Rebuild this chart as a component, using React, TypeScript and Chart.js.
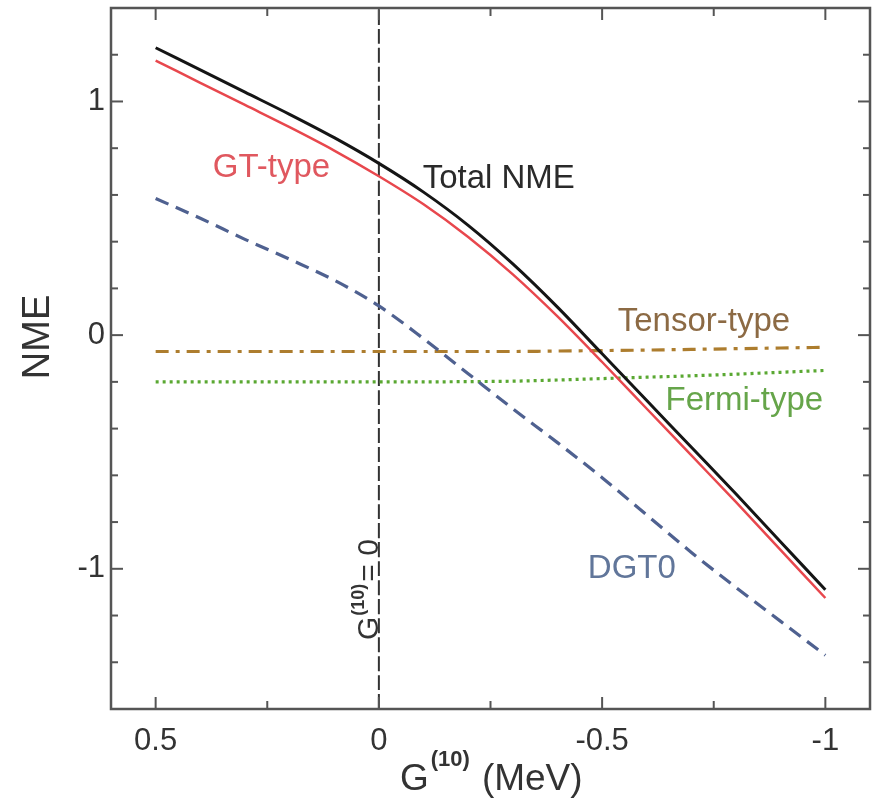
import React, { useEffect, useRef } from 'react';
import { Chart, registerables } from 'chart.js';

Chart.register(...registerables);

// ---- data ----
const gValues = [0.5, 0.4, 0.3, 0.2, 0.1, 0, -0.1, -0.2, -0.3, -0.4, -0.5, -0.6, -0.7, -0.8, -0.9, -1.0];
const totalNME = [1.23, 1.135, 1.04, 0.945, 0.845, 0.735, 0.612, 0.47, 0.305, 0.12, -0.08, -0.28, -0.48, -0.68, -0.885, -1.09];
const gtType = [1.175, 1.08, 0.985, 0.89, 0.79, 0.68, 0.56, 0.42, 0.26, 0.08, -0.115, -0.315, -0.515, -0.715, -0.92, -1.125];
const dgt0 = [0.585, 0.5, 0.41, 0.325, 0.235, 0.125, -0.015, -0.165, -0.315, -0.46, -0.61, -0.77, -0.93, -1.08, -1.225, -1.37];
const tensorType = [-0.07, -0.07, -0.07, -0.07, -0.07, -0.07, -0.07, -0.07, -0.07, -0.068, -0.066, -0.064, -0.061, -0.058, -0.055, -0.052];
const fermiType = [-0.2, -0.2, -0.2, -0.2, -0.2, -0.2, -0.2, -0.199, -0.197, -0.192, -0.186, -0.18, -0.174, -0.167, -0.159, -0.151];
const refLineX = [0, 0];
const refLineY = [-1.6, 1.4];

const xMin = -1.1;
const xMax = 0.6;
const yMin = -1.6;
const yMax = 1.4;
const xLabelTicks = [0.5, 0, -0.5, -1];
const yLabelTicks = [1, 0, -1];

// annotation labels (data coordinates, left/baseline)
const curveLabels = [
  { text: 'GT-type', x: 0.372, y: 0.675, color: '#e0585f' },
  { text: 'Total NME', x: -0.098, y: 0.628, color: '#2a2a2a' },
  { text: 'Tensor-type', x: -0.535, y: 0.017, color: '#8c6a44' },
  { text: 'Fermi-type', x: -0.642, y: -0.32, color: '#66a54a' },
  { text: 'DGT0', x: -0.468, y: -1.038, color: '#61769a' },
];

const FONT = '"Liberation Sans", Arial, sans-serif';

const pts = (xs: number[], ys: number[]) => xs.map((x, i) => ({ x, y: ys[i] }));
const near = (arr: number[], v: number) => arr.some((a) => Math.abs(a - v) < 1e-6);

const framePlugin = {
  id: 'framePlugin',
  afterDatasetsDraw(chart: any) {
    const { ctx, chartArea: a, scales } = chart;
    const xs = scales.x;
    const ys = scales.y;
    ctx.save();
    ctx.strokeStyle = '#555';
    ctx.lineWidth = 2;
    const seg = (x1: number, y1: number, x2: number, y2: number) => {
      ctx.beginPath();
      ctx.moveTo(x1, y1);
      ctx.lineTo(x2, y2);
      ctx.stroke();
    };
    xs.ticks.forEach((t: any) => {
      const px = xs.getPixelForValue(t.value);
      const len = near(xLabelTicks, t.value) ? 12 : 8;
      seg(px, a.bottom, px, a.bottom - len);
      seg(px, a.top, px, a.top + len);
    });
    ys.ticks.forEach((t: any) => {
      const py = ys.getPixelForValue(t.value);
      const len = near(yLabelTicks, t.value) ? 12 : 7;
      seg(a.left, py, a.left + len, py);
      seg(a.right, py, a.right - len, py);
    });
    ctx.lineWidth = 2.5;
    ctx.strokeRect(a.left, a.top, a.right - a.left, a.bottom - a.top);

    // curve labels
    ctx.font = `33px ${FONT}`;
    ctx.textAlign = 'left';
    ctx.textBaseline = 'alphabetic';
    curveLabels.forEach((l) => {
      ctx.fillStyle = l.color;
      ctx.fillText(l.text, xs.getPixelForValue(l.x), ys.getPixelForValue(l.y));
    });

    // vertical label G(10) = 0 along the reference line
    ctx.save();
    ctx.translate(xs.getPixelForValue(0) - 1, ys.getPixelForValue(-1.305));
    ctx.rotate(-Math.PI / 2);
    ctx.fillStyle = '#333';
    ctx.font = `30px ${FONT}`;
    ctx.fillText('G', 0, 0);
    let off = ctx.measureText('G').width + 1;
    ctx.font = `bold 18px ${FONT}`;
    ctx.fillText('(10)', off, -14);
    off += ctx.measureText('(10)').width + 2;
    ctx.font = `30px ${FONT}`;
    ctx.fillText('= 0', off, 0);
    ctx.restore();

    // axis titles
    ctx.fillStyle = '#333';
    ctx.save();
    ctx.translate(39, 337);
    ctx.rotate(-Math.PI / 2);
    ctx.font = `38px ${FONT}`;
    ctx.textAlign = 'center';
    ctx.textBaseline = 'middle';
    ctx.fillText('NME', 0, 0);
    ctx.restore();

    ctx.textAlign = 'left';
    ctx.textBaseline = 'alphabetic';
    ctx.font = `37px ${FONT}`;
    let tx = 400;
    ctx.fillText('G', tx, 790);
    tx += ctx.measureText('G').width + 2;
    ctx.font = `bold 22px ${FONT}`;
    ctx.fillText('(10)', tx, 766);
    tx += ctx.measureText('(10)').width + 12;
    ctx.font = `37px ${FONT}`;
    ctx.fillText('(MeV)', tx, 790);
    ctx.restore();
  },
};

export default function App() {
  const ref = useRef<HTMLCanvasElement | null>(null);
  useEffect(() => {
    if (!ref.current) return;
    const lineBase = { showLine: true, pointRadius: 0, fill: false, cubicInterpolationMode: 'monotone' as const };
    const chart = new Chart(ref.current, {
      type: 'scatter',
      data: {
        datasets: [
          { ...lineBase, label: 'Total NME', data: pts(gValues, totalNME), borderColor: '#151515', borderWidth: 3 },
          { ...lineBase, label: 'GT-type', data: pts(gValues, gtType), borderColor: '#e8474d', borderWidth: 2.5 },
          { ...lineBase, label: 'DGT0', data: pts(gValues, dgt0), borderColor: '#4f6190', borderWidth: 3.2, borderDash: [14, 8] },
          { ...lineBase, label: 'Tensor-type', data: pts(gValues, tensorType), borderColor: '#ad7d2e', borderWidth: 3.2, borderDash: [13, 7, 4, 7] },
          { ...lineBase, label: 'Fermi-type', data: pts(gValues, fermiType), borderColor: '#5aa832', borderWidth: 3.2, borderDash: [3, 4] },
          { ...lineBase, label: 'ref', data: pts(refLineX, refLineY), borderColor: '#333', borderWidth: 2, borderDash: [15, 4] },
        ],
      },
      options: {
        responsive: false,
        animation: false,
        devicePixelRatio: 1,
        layout: { padding: { left: 0, right: 11, top: 8, bottom: 0 } },
        plugins: { legend: { display: false }, tooltip: { enabled: false } },
        scales: {
          x: {
            type: 'linear',
            min: xMin,
            max: xMax,
            reverse: true,
            grid: { display: false, drawTicks: false },
            border: { display: false },
            afterFit: (s: any) => { s.height = 89; s.paddingLeft = 0; s.paddingRight = 0; },
            ticks: {
              stepSize: 0.25,
              includeBounds: false,
              autoSkip: false,
              maxRotation: 0,
              padding: 14,
              color: '#333',
              font: { family: FONT, size: 31 },
              callback: (v: any) => (near(xLabelTicks, Number(v)) ? String(Math.round(Number(v) * 10) / 10) : ''),
            },
          },
          y: {
            type: 'linear',
            min: yMin,
            max: yMax,
            grid: { display: false, drawTicks: false },
            border: { display: false },
            afterFit: (s: any) => { s.width = 111; s.paddingTop = 0; s.paddingBottom = 0; },
            ticks: {
              stepSize: 0.2,
              autoSkip: false,
              padding: 6,
              color: '#333',
              font: { family: FONT, size: 31 },
              callback: (v: any) => (near(yLabelTicks, Number(v)) ? String(Math.round(Number(v))) : ''),
            },
          },
        },
      },
      plugins: [framePlugin],
    });
    return () => chart.destroy();
  }, []);
  return (
    <div style={{ position: 'absolute', left: 0, top: 0, width: 881, height: 798, background: '#fff' }}>
      <canvas ref={ref} width={881} height={798} />
    </div>
  );
}
